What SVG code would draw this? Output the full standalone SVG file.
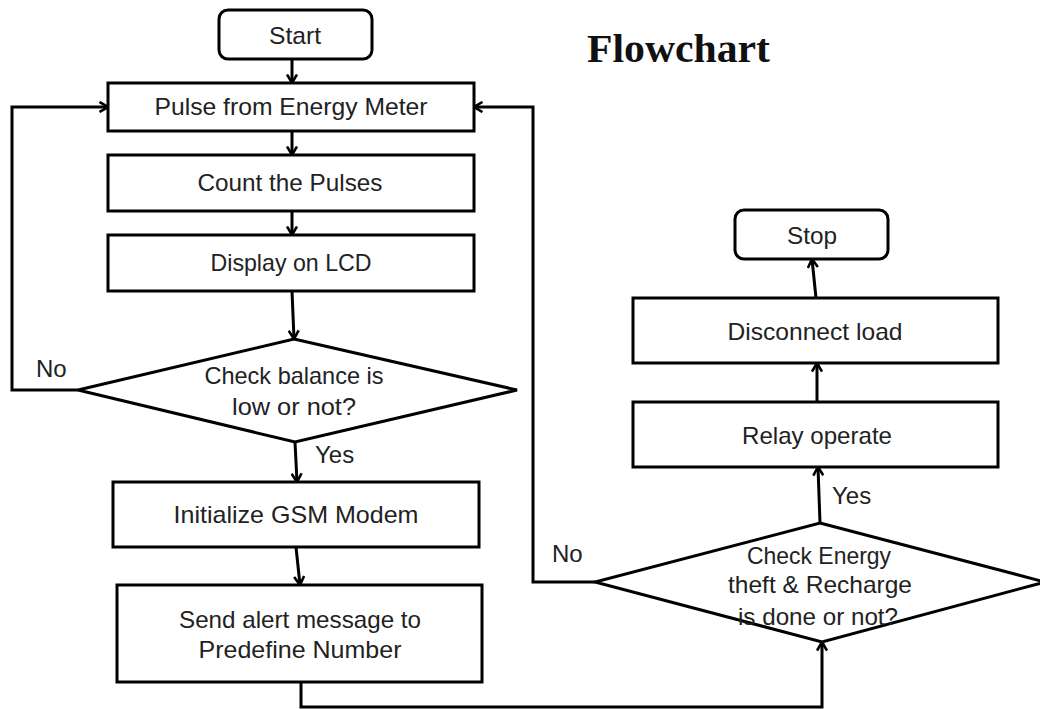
<svg xmlns="http://www.w3.org/2000/svg" width="1040" height="709" viewBox="0 0 1040 709">
<defs>
<marker id="arr" viewBox="0 0 10 12" refX="9.5" refY="6" markerWidth="10" markerHeight="12" markerUnits="userSpaceOnUse" orient="auto">
<path d="M1,1 L9.5,6 L1,11" fill="none" stroke="#000" stroke-width="2.6"/>
</marker>
<style>
.box{fill:#fff;stroke:#000;stroke-width:3}
.t{font-family:"Liberation Sans",Arial,sans-serif;font-size:24px;fill:#222;text-anchor:middle}
.lbl{font-family:"Liberation Sans",Arial,sans-serif;font-size:24px;fill:#222}
.c{fill:none;stroke:#000;stroke-width:3;marker-end:url(#arr)}
</style>
</defs>
<rect width="1040" height="709" fill="#fff"/>
<text x="587" y="62" font-family="'Liberation Serif','Times New Roman',serif" font-weight="bold" font-size="41" fill="#111" textLength="183" lengthAdjust="spacingAndGlyphs">Flowchart</text>
<g id="connectors">
<path class="c" d="M292,59 L292,83"/>
<path class="c" d="M292,131 L292,155"/>
<path class="c" d="M292,211 L292,235"/>
<path class="c" d="M292,291 L294,339"/>
<path class="c" d="M295,442 L297,482"/>
<path class="c" d="M296,547 L300,585"/>
<path class="c" d="M301,682 L301,707 L822,707 L822,642"/>
<path class="c" d="M78,390 L12,390 L12,107 L108,107"/>
<path class="c" d="M595,582 L533,582 L533,107 L474,107"/>
<path class="c" d="M820,523 L818,467"/>
<path class="c" d="M817,402 L817,363"/>
<path class="c" d="M816,298 L812,259"/>
<text class="lbl" x="36" y="377">No</text>
<text class="lbl" x="315" y="463">Yes</text>
<text class="lbl" x="552" y="562">No</text>
<text class="lbl" x="832" y="504">Yes</text>
</g>
<g id="start">
<rect class="box" x="219" y="10" width="153" height="49" rx="9"/>
<text class="t" x="295" y="44" textLength="52" lengthAdjust="spacingAndGlyphs">Start</text>
</g>
<g id="pulse">
<rect class="box" x="108" y="83" width="366" height="48"/>
<text class="t" x="291" y="115" textLength="273" lengthAdjust="spacingAndGlyphs">Pulse from Energy Meter</text>
</g>
<g id="count">
<rect class="box" x="108" y="155" width="366" height="56"/>
<text class="t" x="290" y="191" textLength="185" lengthAdjust="spacingAndGlyphs">Count the Pulses</text>
</g>
<g id="display">
<rect class="box" x="108" y="235" width="366" height="56"/>
<text class="t" x="291" y="271" textLength="161" lengthAdjust="spacingAndGlyphs">Display on LCD</text>
</g>
<g id="check-balance">
<polygon class="box" points="294,339 517,390 295,442 78,390"/>
<text class="t" x="294" y="384" textLength="179" lengthAdjust="spacingAndGlyphs">Check balance is</text>
<text class="t" x="294" y="415" textLength="124" lengthAdjust="spacingAndGlyphs">low or not?</text>
</g>
<g id="init-gsm">
<rect class="box" x="113" y="482" width="366" height="65"/>
<text class="t" x="296" y="523" textLength="245" lengthAdjust="spacingAndGlyphs">Initialize GSM Modem</text>
</g>
<g id="send-alert">
<rect class="box" x="117" y="585" width="365" height="97"/>
<text class="t" x="300" y="628" textLength="242" lengthAdjust="spacingAndGlyphs">Send alert message to</text>
<text class="t" x="300" y="658" textLength="203" lengthAdjust="spacingAndGlyphs">Predefine Number</text>
</g>
<g id="check-theft">
<polygon class="box" points="820,523 1045,582 822,642 595,582"/>
<text class="t" x="819" y="564" textLength="144" lengthAdjust="spacingAndGlyphs">Check Energy</text>
<text class="t" x="820" y="593" textLength="184" lengthAdjust="spacingAndGlyphs">theft &amp; Recharge</text>
<text class="t" x="818" y="625" textLength="160" lengthAdjust="spacingAndGlyphs">is done or not?</text>
</g>
<g id="relay">
<rect class="box" x="633" y="402" width="365" height="65"/>
<text class="t" x="817" y="444" textLength="150" lengthAdjust="spacingAndGlyphs">Relay operate</text>
</g>
<g id="disconnect">
<rect class="box" x="633" y="298" width="365" height="65"/>
<text class="t" x="815" y="340" textLength="175" lengthAdjust="spacingAndGlyphs">Disconnect load</text>
</g>
<g id="stop">
<rect class="box" x="735" y="210" width="153" height="49" rx="9"/>
<text class="t" x="812" y="244" textLength="50" lengthAdjust="spacingAndGlyphs">Stop</text>
</g>
</svg>
